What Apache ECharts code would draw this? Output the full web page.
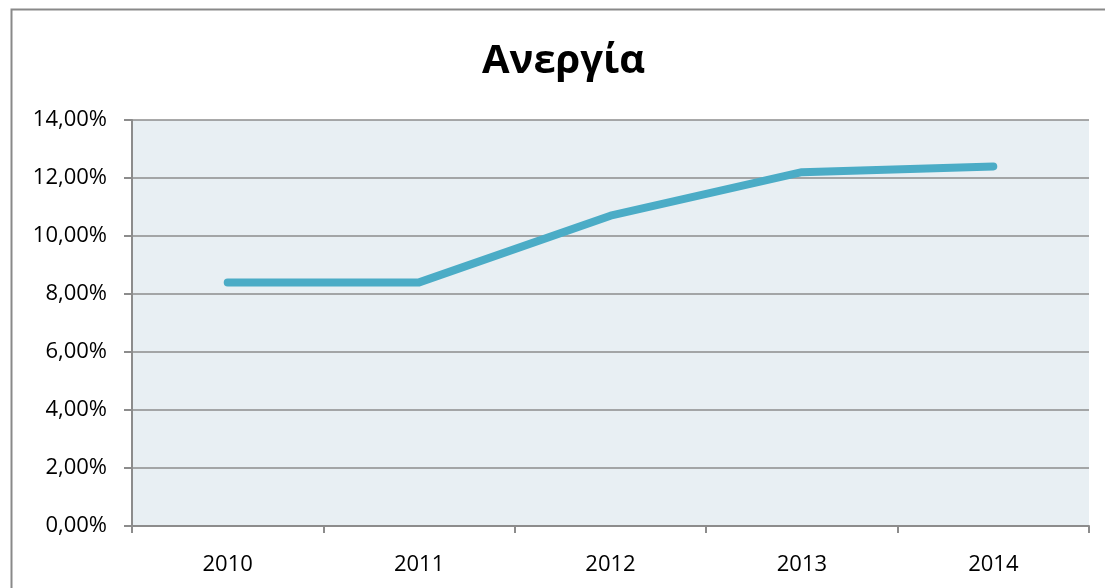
<!DOCTYPE html>
<html><head><meta charset="utf-8">
<script src="https://cdn.jsdelivr.net/npm/echarts@6/dist/echarts.min.js"></script>
<style>html,body{margin:0;padding:0;background:#fff}#c{width:1105px;height:588px}</style>
</head><body><div id="c"></div>
<script>
const categories = ['2010','2011','2012','2013','2014'];
const unemployment = [8.4, 8.4, 10.7, 12.2, 12.4];
const yTicks = [0, 2, 4, 6, 8, 10, 12, 14];
const titleText = 'Ανεργία';

const chart = echarts.init(document.getElementById('c'), null, {renderer:'canvas'});
const font = '"Open Sans", "DejaVu Sans", sans-serif';
chart.setOption({
  animation: false,
  backgroundColor: '#fff',
  title: {text: titleText, left: 477, top: 37,
    textStyle: {fontFamily: font, fontSize: 40, fontWeight: 'bold', color: '#000'}},
  graphic: [{type:'rect', left: 9, top: 7, shape:{width: 1200, height: 700},
    style:{fill: 'none', stroke: '#898989', lineWidth: 2}, z: 100}],
  grid: {left: 132, right: 16, top: 120, bottom: 62, show: true,
    backgroundColor: '#E8EFF3', borderWidth: 0},
  xAxis: {type: 'category', data: categories, boundaryGap: true,
    axisLine: {lineStyle: {color: '#8c8c8c', width: 2}},
    axisTick: {show: true, length: 7, lineStyle: {color: '#8c8c8c', width: 2}},
    axisLabel: {fontFamily: font, fontSize: 22, color: '#000', margin: 28}},
  yAxis: {type: 'value', min: yTicks[0], max: yTicks[yTicks.length-1], interval: 2,
    axisLine: {show: true, lineStyle: {color: '#8c8c8c', width: 2}},
    axisTick: {show: true, length: 8, lineStyle: {color: '#8c8c8c', width: 2}},
    splitLine: {lineStyle: {color: '#8c8c8c', width: 1.5}},
    axisLabel: {fontFamily: font, fontSize: 22, color: '#000', margin: 25,
      formatter: v => v.toFixed(2).replace('.', ',') + '%'}},
  series: [{type: 'line', data: unemployment, symbol: 'none',
    lineStyle: {color: '#4BACC6', width: 8, cap: 'round', join: 'round'}}]
});
</script></body></html>
